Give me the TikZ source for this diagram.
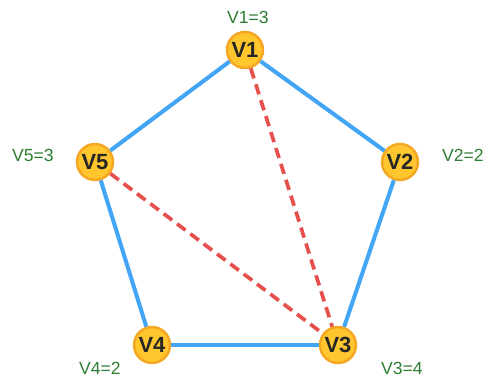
\documentclass[tikz,border=0pt]{standalone}
\usepackage{fontspec}
\setmainfont{Liberation Sans}
\usetikzlibrary{positioning}
\definecolor{vfill}{HTML}{FFC62E}
\definecolor{vdraw}{HTML}{F5A623}
\definecolor{edgeblue}{HTML}{42A5F5}
\definecolor{edgered}{HTML}{E5504C}
\definecolor{lblgreen}{HTML}{2E7D32}
\begin{document}
\begin{tikzpicture}[font=\fontsize{10}{12}\selectfont]
  \tikzstyle{vertex}=[circle, draw=vdraw, fill=vfill, line width=1.4pt, minimum size=0.72cm, inner sep=0pt, font=\fontsize{12.5}{14}\selectfont\bfseries, text=black!85]
  \tikzstyle{ring}=[draw=edgeblue, line width=2.3pt]
  \tikzstyle{chord}=[draw=edgered, line width=2.1pt, dash pattern=on 6pt off 3.5pt]
  \tikzstyle{colour}=[text=lblgreen]

  \useasboundingbox (0,0) rectangle (9.66,7.58);

  % vertices
  \node[vertex] (v1) at (4.90,6.58) {V1};
  \node[vertex] (v2) at (8.00,4.34) {V2};
  \node[vertex] (v3) at (6.76,0.68) {V3};
  \node[vertex] (v4) at (3.04,0.68) {V4};
  \node[vertex] (v5) at (1.90,4.34) {V5};

  % colour labels
  \node[colour] (c1) at (4.96,7.24) {V1=3};
  \node[colour] (c2) at (9.26,4.48) {V2=2};
  \node[colour] (c3) at (8.04,0.22) {V3=4};
  \node[colour] (c4) at (2.00,0.22) {V4=2};
  \node[colour] (c5) at (0.66,4.48) {V5=3};

  % edges
  \draw[ring] (v1) -- (v2);
  \draw[ring] (v2) -- (v3);
  \draw[ring] (v3) -- (v4);
  \draw[ring] (v4) -- (v5);
  \draw[ring] (v5) -- (v1);
  \draw[chord] (v1) -- (v3);
  \draw[chord] (v5) -- (v3);

\end{tikzpicture}
\end{document}
